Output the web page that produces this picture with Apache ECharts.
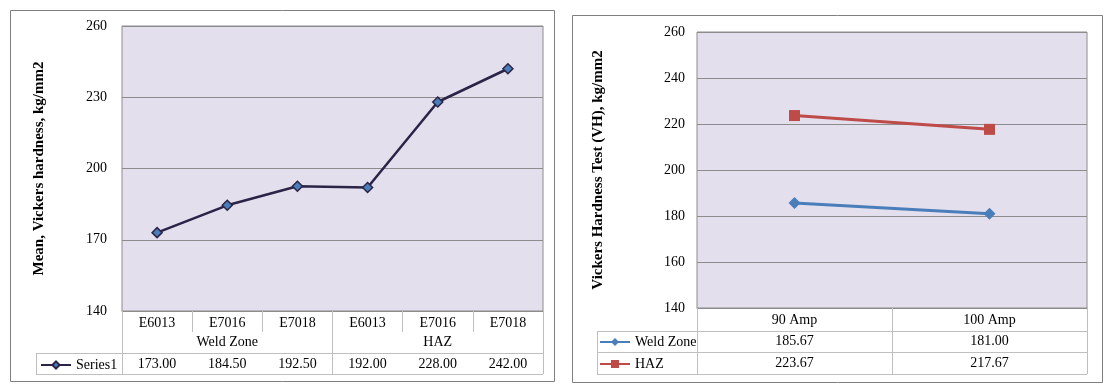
<!DOCTYPE html>
<html>
<head>
<meta charset="utf-8">
<script src="https://cdn.jsdelivr.net/npm/echarts@6/dist/echarts.min.js"></script>
<style>
  html, body { margin: 0; padding: 0; background: #fff; }
  #chart { width: 1104px; height: 390px; }
</style>
</head>
<body>
<div id="chart"></div>
<script>
  // left chart data
  const electrodes = ['E6013', 'E7016', 'E7018', 'E6013', 'E7016', 'E7018'];
  const zones = ['Weld Zone', 'HAZ'];
  const series1 = [173.00, 184.50, 192.50, 192.00, 228.00, 242.00];

  // right chart data
  const currents = ['90 Amp', '100 Amp'];
  const weldZone = [185.67, 181.00];
  const haz = [223.67, 217.67];

  const font = 'Liberation Serif, Times New Roman, serif';
  const tableColor = '#bfbfbf';

  const chart = echarts.init(document.getElementById('chart'));

  // simple helper for table lines
  const line = (x1, y1, x2, y2) => ({
    type: 'line',
    silent: true,
    shape: { x1, y1, x2, y2 },
    style: { stroke: tableColor, lineWidth: 1 }
  });

  const labelStyle = { color: '#000', fontSize: 14, fontFamily: font };

  const option = {
    animation: false,
    backgroundColor: '#fff',
    graphic: [
      // chart borders
      { type: 'rect', shape: { x: 10.5, y: 10.5, width: 544, height: 371 }, style: { fill: 'none', stroke: '#7f7f7f', lineWidth: 1 } },
      { type: 'rect', shape: { x: 572.5, y: 15.5, width: 530, height: 367 }, style: { fill: 'none', stroke: '#7f7f7f', lineWidth: 1 } },
      // left data table
      line(36, 353.5, 543, 353.5),
      line(36, 374.5, 543, 374.5),
      line(36.5, 353, 36.5, 374),
      // right data table
      line(597, 331.5, 1087, 331.5),
      line(597, 352.5, 1087, 352.5),
      line(597, 374.5, 1087, 374.5),
      line(597.5, 331, 597.5, 374)
    ],
    legend: [
      {
        data: ['Series1'],
        left: 40,
        top: 358,
        padding: 0,
        itemWidth: 30,
        itemHeight: 9,
        itemGap: 4,
        textStyle: { ...labelStyle, lineHeight: 14 }
      },
      {
        data: ['Weld Zone', 'HAZ'],
        orient: 'vertical',
        left: 599,
        top: 335,
        padding: 0,
        itemGap: 8,
        itemWidth: 30,
        itemHeight: 10,
        textStyle: { ...labelStyle, lineHeight: 14 }
      }
    ],
    grid: [
      {
        left: 122, top: 26, right: 561, bottom: 79,
        show: true, backgroundColor: '#e4dfec', borderColor: '#8c8c8c', borderWidth: 1
      },
      {
        left: 697, top: 32, right: 17, bottom: 82,
        show: true, backgroundColor: '#e4dfec', borderColor: '#8c8c8c', borderWidth: 1
      }
    ],
    xAxis: [
      {
        type: 'category', gridIndex: 0, data: electrodes,
        axisLine: { lineStyle: { color: '#8c8c8c' } },
        axisTick: { show: true, interval: 0, length: 21, lineStyle: { color: tableColor } },
        axisLabel: { ...labelStyle, margin: 5, interval: 0 }
      },
      {
        type: 'category', gridIndex: 0, position: 'bottom', data: zones,
        axisLine: { show: false },
        axisTick: { show: true, interval: 0, length: 63, lineStyle: { color: tableColor } },
        axisLabel: { ...labelStyle, margin: 24, interval: 0 }
      },
      {
        type: 'category', gridIndex: 0, position: 'bottom', data: electrodes,
        axisLine: { show: false },
        axisTick: { show: false },
        axisLabel: { ...labelStyle, margin: 46, interval: 0, formatter: (v, i) => series1[i].toFixed(2) }
      },
      {
        type: 'category', gridIndex: 1, data: currents,
        axisLine: { lineStyle: { color: '#8c8c8c' } },
        axisTick: { show: true, interval: 0, length: 66, lineStyle: { color: tableColor } },
        axisLabel: { ...labelStyle, margin: 5, interval: 0 }
      },
      {
        type: 'category', gridIndex: 1, position: 'bottom', data: currents,
        axisLine: { show: false },
        axisTick: { show: false },
        axisLabel: { ...labelStyle, margin: 26, interval: 0, formatter: (v, i) => weldZone[i].toFixed(2) }
      },
      {
        type: 'category', gridIndex: 1, position: 'bottom', data: currents,
        axisLine: { show: false },
        axisTick: { show: false },
        axisLabel: { ...labelStyle, margin: 48, interval: 0, formatter: (v, i) => haz[i].toFixed(2) }
      }
    ],
    yAxis: [
      {
        type: 'value', gridIndex: 0, min: 140, max: 260, interval: 30,
        name: 'Mean, Vickers hardness, kg/mm2',
        nameLocation: 'middle', nameRotate: 90, nameGap: 75,
        nameTextStyle: { ...labelStyle, fontSize: 15, fontWeight: 'bold' },
        axisLine: { show: false },
        axisTick: { show: false },
        axisLabel: { ...labelStyle, margin: 15 },
        splitLine: { lineStyle: { color: '#8c8c8c' } }
      },
      {
        type: 'value', gridIndex: 1, min: 140, max: 260, interval: 20,
        name: 'Vickers Hardness Test (VH), kg/mm2',
        nameLocation: 'middle', nameRotate: 90, nameGap: 91,
        nameTextStyle: { ...labelStyle, fontSize: 15, fontWeight: 'bold' },
        axisLine: { show: false },
        axisTick: { show: false },
        axisLabel: { ...labelStyle, margin: 12 },
        splitLine: { lineStyle: { color: '#8c8c8c' } }
      }
    ],
    series: [
      {
        name: 'Series1', type: 'line', xAxisIndex: 0, yAxisIndex: 0,
        data: series1,
        symbol: 'diamond', symbolSize: 10,
        lineStyle: { color: '#2c2448', width: 2.5 },
        itemStyle: { color: '#4a7ebb', borderColor: '#2c2448', borderWidth: 1.5 }
      },
      {
        name: 'Weld Zone', type: 'line', xAxisIndex: 3, yAxisIndex: 1,
        data: weldZone,
        symbol: 'diamond', symbolSize: 12,
        lineStyle: { color: '#4a7ebb', width: 3 },
        itemStyle: { color: '#4a7ebb' }
      },
      {
        name: 'HAZ', type: 'line', xAxisIndex: 3, yAxisIndex: 1,
        data: haz,
        symbol: 'rect', symbolSize: 11,
        lineStyle: { color: '#be4b48', width: 3 },
        itemStyle: { color: '#be4b48' }
      }
    ]
  };

  chart.setOption(option);
</script>
</body>
</html>
